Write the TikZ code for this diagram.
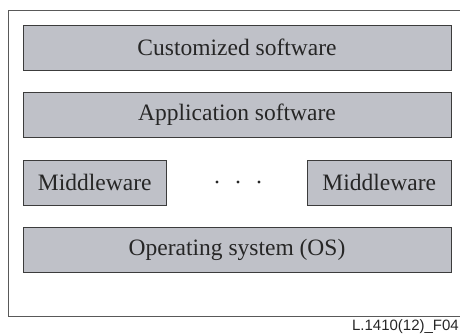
\documentclass[tikz,border=0pt]{standalone}
\usepackage{fontspec}
\setmainfont{Liberation Serif}
\newfontfamily\labelfont{Liberation Sans}
\definecolor{layergray}{RGB}{191,193,200}
\definecolor{edgegray}{RGB}{60,60,60}

\begin{document}
\begin{tikzpicture}
[x=1pt,y=-1pt,%
  every node/.style={inner sep=0pt,text=black!85},%
  layer/.style={draw=edgegray,fill=layergray,line width=0.9pt,
    minimum height=45pt,font=\fontsize{23.5}{27}\selectfont},%
  wide/.style={layer,minimum width=428pt},%
  half/.style={layer,minimum width=143.5pt}]
\useasboundingbox (0,0) rectangle (460,333);
\draw[black!65,line width=0.9pt] (8,10) rectangle (470,316);
\node[wide] (custom) at (237,47.5) {Customized software};
\node[wide] (app) at (237,114.5) {Application software};
\node[half] (mwleft) at (94.75,182.5) {Middleware};
\node[half] (mwright) at (379.25,182.5) {Middleware};
\node[wide] (os) at (237,249.5) {Operating system (OS)};
\foreach \x in {217,238,259}
  \fill[black!85] (\x,182) circle (1.6pt);
\node[anchor=north east,font=\labelfont\fontsize{15}{17}\selectfont] (figid)
  at (459,319) {L.1410(12)\_F04};
\end{tikzpicture}
\end{document}
